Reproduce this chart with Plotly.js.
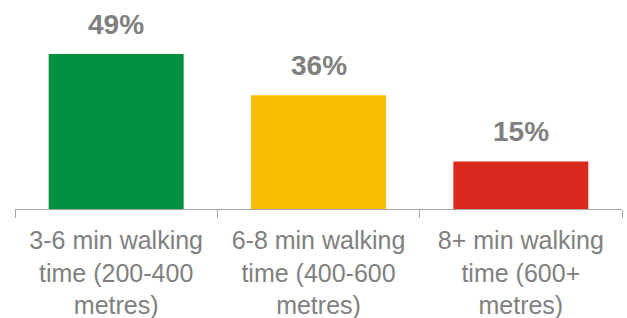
<!DOCTYPE html>
<html>
<head>
<meta charset="utf-8">
<script src="https://cdn.plot.ly/plotly-3.0.1.min.js"></script>
<style>html,body{margin:0;padding:0;background:#fff;}#chart{width:627px;height:318px;}</style>
</head>
<body>
<div id="chart"></div>
<script>
var categories = ["3-6 min walking<br>time (200-400<br>metres)", "6-8 min walking<br>time (400-600<br>metres)", "8+ min walking<br>time (600+<br>metres)"];
var values = [49, 36, 15];
var labels = ["49%", "36%", "15%"];
var colors = ["#009240", "#F8BE00", "#DA291C"];

var FONT = "Liberation Sans, Arial, sans-serif";
var trace = {
  type: "bar",
  x: categories,
  y: values,
  marker: {color: colors},
  hoverinfo: "none"
};
var annotations = categories.map(function(c, i) {
  return {
    x: c, y: values[i], xref: "x", yref: "y",
    text: "<b>" + labels[i] + "</b>",
    showarrow: false, yanchor: "middle", yshift: 30,
    font: {family: FONT, size: 28, color: "#808080"}
  };
});
var layout = {
  width: 627, height: 318,
  margin: {l: 15, r: 5, t: 0, b: 109},
  paper_bgcolor: "#fff", plot_bgcolor: "#fff",
  bargap: 0.333,
  showlegend: false,
  xaxis: {
    type: "category",
    showline: true, linecolor: "#A6A6A6", linewidth: 1,
    ticks: "outside", tickson: "boundaries", ticklen: 8, tickcolor: "#A6A6A6",
    ticklabelstandoff: 9,
    tickfont: {family: FONT, size: 25, color: "#808080"},
    showgrid: false, zeroline: false, fixedrange: true
  },
  yaxis: {
    range: [0, 66.1], visible: false, showgrid: false, zeroline: false, fixedrange: true
  },
  annotations: annotations
};
Plotly.newPlot("chart", [trace], layout, {displayModeBar: false, staticPlot: true});
</script>
</body>
</html>
